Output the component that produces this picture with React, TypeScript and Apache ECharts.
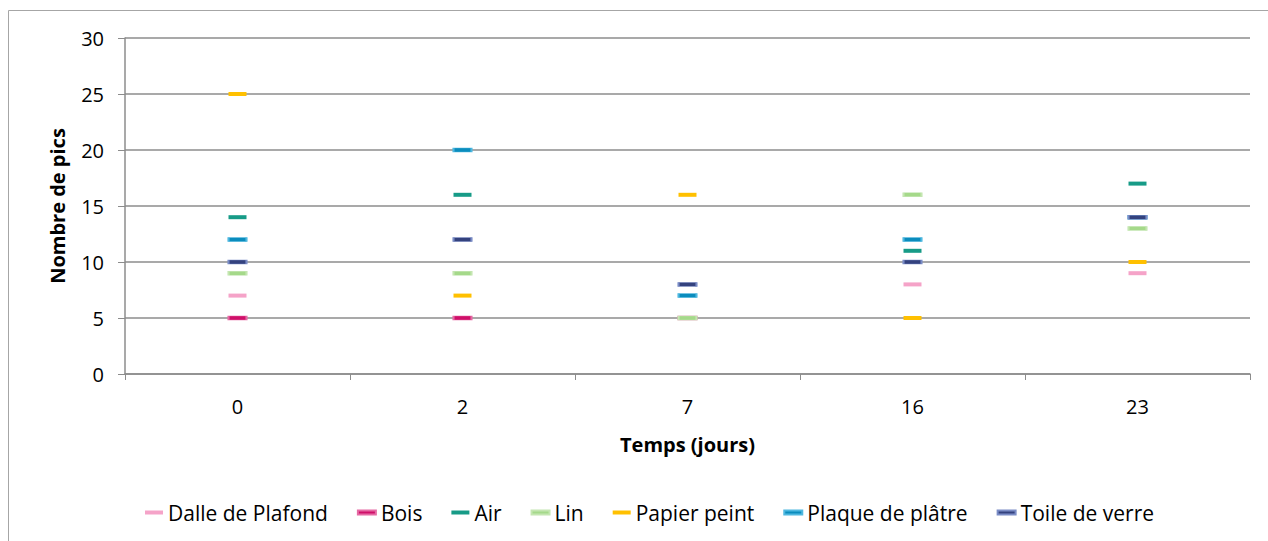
import React, { useEffect, useRef } from "react";
import * as echarts from "echarts";

const categories = ["0", "2", "7", "16", "23"];
const dalleDePlafond = [7, 5, null, 8, 9];
const bois = [5, 5, 5, null, null];
const air = [14, 16, null, 11, 17];
const lin = [9, 9, 5, 16, 13];
const papierPeint = [25, 7, 16, 5, 10];
const plaqueDePlatre = [12, 20, 7, 12, 14];
const toileDeVerre = [10, 12, 8, 10, 14];

const FONT = "'Open Sans', 'Liberation Sans', sans-serif";

export default function App() {
  const ref = useRef<HTMLDivElement>(null);
  useEffect(() => {
    if (!ref.current) return;
    const chart = echarts.init(ref.current, null, { renderer: "svg" });
    const mk = (
      name: string,
      data: (number | null)[],
      color: string,
      size: number[],
      border?: string
    ) => ({
      name,
      type: "scatter",
      data,
      symbol: "rect",
      symbolSize: size,
      itemStyle: border
        ? { color, borderColor: border, borderWidth: 1, opacity: 1 }
        : { color, opacity: 1 },
      emphasis: { disabled: true },
    });
    chart.setOption({
      animation: false,
      backgroundColor: "#ffffff",
      textStyle: { fontFamily: FONT },
      graphic: [
        {
          type: "rect",
          shape: { x: 8.5, y: 10.5, width: 1400, height: 700 },
          style: { fill: "none", stroke: "#a6a6a6", lineWidth: 1 },
          silent: true,
          z: -1,
        },
      ],
      grid: { left: 125, right: 18, top: 38, bottom: 167, containLabel: false },
      legend: {
        bottom: 13,
        left: 140,
        icon: "rect",
        itemWidth: 18,
        itemHeight: 4,
        itemGap: 29,
        textStyle: { fontFamily: FONT, fontSize: 21, color: "#000" },
        data: [
          "Dalle de Plafond",
          "Bois",
          "Air",
          "Lin",
          "Papier peint",
          "Plaque de plâtre",
          "Toile de verre",
        ],
      },
      xAxis: {
        type: "category",
        data: categories,
        boundaryGap: true,
        name: "Temps (jours)",
        nameLocation: "middle",
        nameGap: 60,
        nameTextStyle: { fontFamily: FONT, fontSize: 20, fontWeight: "bold", color: "#000" },
        axisLine: { lineStyle: { color: "#8c8c8c", width: 1.5 } },
        axisTick: { show: true, interval: 0, length: 6, lineStyle: { color: "#8c8c8c" } },
        axisLabel: { fontFamily: FONT, fontSize: 20, color: "#000", margin: 22 },
        splitLine: { show: false },
      },
      yAxis: {
        type: "value",
        min: 0,
        max: 30,
        interval: 5,
        name: "Nombre de pics",
        nameLocation: "middle",
        nameGap: 58,
        nameRotate: 90,
        nameTextStyle: { fontFamily: FONT, fontSize: 20, fontWeight: "bold", color: "#000" },
        axisLine: { show: true, lineStyle: { color: "#8c8c8c", width: 1.5 } },
        axisTick: { show: true, length: 7, lineStyle: { color: "#8c8c8c" } },
        axisLabel: { fontFamily: FONT, fontSize: 20, color: "#000", margin: 21 },
        splitLine: { show: true, lineStyle: { color: "#8c8c8c", width: 1.5 } },
      },
      series: [
        mk("Dalle de Plafond", dalleDePlafond, "#f5a3c8", [18, 4]),
        mk("Bois", bois, "#cf0f69", [18, 4], "#e56aa4"),
        mk("Air", air, "#179b87", [18, 4]),
        mk("Lin", lin, "#a5d98a", [18, 4], "#c4e6b1"),
        mk("Papier peint", papierPeint, "#ffc000", [18, 4]),
        mk("Plaque de plâtre", plaqueDePlatre, "#0b8cbd", [18, 4], "#4fb8e0"),
        mk("Toile de verre", toileDeVerre, "#34427e", [18, 4], "#7a8cc6"),
      ],
    });
    return () => chart.dispose();
  }, []);
  return (
    <div
      ref={ref}
      style={{ position: "absolute", left: 0, top: 0, width: 1268, height: 541 }}
    />
  );
}
